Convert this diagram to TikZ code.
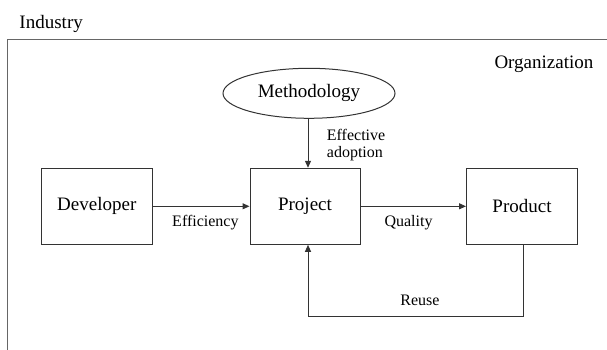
\documentclass[tikz,border=0pt]{standalone}
\usepackage{fontspec}
\setmainfont{Liberation Serif}
\newfontfamily\diagfont{Liberation Serif}
\usetikzlibrary{arrows.meta,shapes.geometric}
\tikzset{
  line/.style={draw=black!80, line width=1pt},
  box/.style={line, rectangle, minimum width=111pt, minimum height=76pt, inner sep=0pt, font=\diagfont\fontsize{19}{21}\selectfont},
  oval/.style={line, ellipse, minimum width=172pt, minimum height=50pt, inner sep=0pt, font=\diagfont\fontsize{19}{21}\selectfont},
  big/.style={inner sep=0pt, font=\diagfont\fontsize{19}{21}\selectfont},
  small/.style={inner sep=0pt, font=\diagfont\fontsize{16}{17}\selectfont},
  arr/.style={line, -{Triangle[length=7pt,width=6pt]}},
}
\begin{document}
\begin{tikzpicture}[x=1pt,y=-1pt]
\useasboundingbox (0,0) rectangle (607,350);
% frame
\coordinate (ftr) at (607,39.5);
\coordinate (ftl) at (7.5,39.5);
\coordinate (fbl) at (7.5,350);
\draw[line, draw=black!60, line width=1.3pt] (ftr) -- (ftl) -- (fbl);
\node[big, anchor=base west] (ind) at (19.3,29) {Industry};
\node[big, anchor=base west] (org) at (494.3,69) {Organization};
% nodes
\node[oval] (meth) at (309,93.3) {Methodology};
\node[box] (dev) at (96.8,206.3) {Developer};
\node[box, minimum width=110pt] (proj) at (305,206.3) {Project};
\node[box] (prod) at (522,206.3) {Product};
% arrows
\draw[arr] (meth.south -| 308,0) -- (proj.north -| 308,0);
\node[small, anchor=base west, align=left] (eff) at (326.7,157) {Effective\\adoption};
\draw[arr] (dev.east) -- (proj.west);
\node[small, anchor=base] (effi) at (205.4,226) {Efficiency};
\draw[arr] (proj.east) -- (prod.west);
\node[small, anchor=base] (qual) at (408.5,226) {Quality};
\coordinate (r1) at (523,316.3);
\coordinate (r2) at (308,316.3);
\draw[arr] (prod.south -| r1) -- (r1) -- (r2) -- (proj.south -| r2);
\node[small, anchor=base] (reuse) at (420,305) {Reuse};
\end{tikzpicture}
\end{document}
